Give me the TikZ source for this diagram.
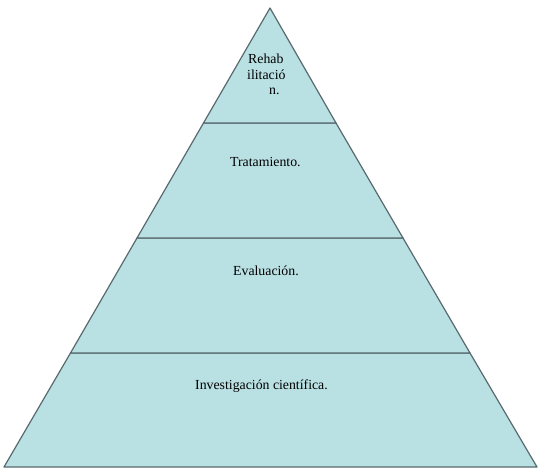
\documentclass[tikz,border=0pt]{standalone}
\usepackage{fontspec}
\setmainfont{Liberation Serif}
\definecolor{pyrfill}{RGB}{185,224,227}
\definecolor{pyrline}{RGB}{88,106,110}
\begin{document}
\begin{tikzpicture}[x=1pt,y=-1pt,
  layer/.style={fill=pyrfill,draw=pyrline,line width=1.2pt,line join=round},
  lbl/.style={font=\fontsize{13.8}{16}\selectfont,inner sep=0pt,anchor=base west}]
\useasboundingbox (0,0) rectangle (542,475);
\coordinate (A) at (270,8);
\coordinate (L1) at (203.5,123); \coordinate (R1) at (336,123);
\coordinate (L2) at (137,238);   \coordinate (R2) at (403,238);
\coordinate (L3) at (70.5,353);  \coordinate (R3) at (470,353);
\coordinate (L4) at (4,467);     \coordinate (R4) at (537,467);
\draw[layer] (L4) -- (L3) -- (R3) -- (R4) -- cycle;
\draw[layer] (L3) -- (L2) -- (R2) -- (R3) -- cycle;
\draw[layer] (L2) -- (L1) -- (R1) -- (R2) -- cycle;
\draw[layer] (L1) -- (A) -- (R1) -- cycle;
\node[lbl] (t1a) at (248,63) {Rehab};
\node[lbl] (t1b) at (247,79) {ilitació};
\node[lbl] (t1c) at (269,94) {n.};
\node[lbl] (t2) at (230,166) {Tratamiento.};
\node[lbl] (t3) at (233,275) {Evaluación.};
\node[lbl] (t4) at (195,389) {Investigación científica.};
\end{tikzpicture}
\end{document}
